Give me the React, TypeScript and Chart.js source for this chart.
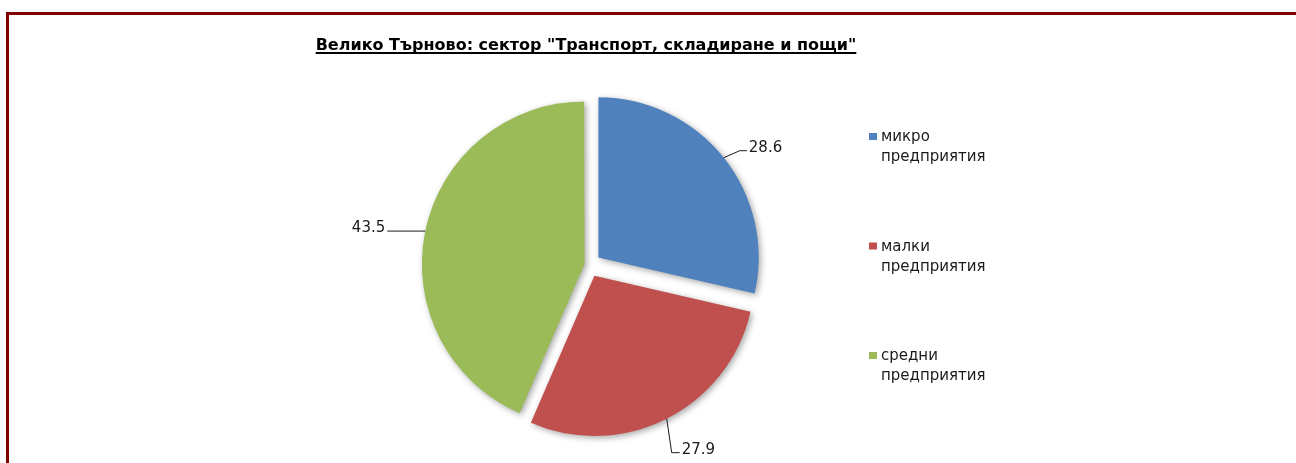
import React, { useEffect, useRef } from "react";
import { Chart, registerables } from "chart.js";

Chart.register(...registerables);

// ---- data ----
const titleText = 'Велико Търново: сектор "Транспорт, складиране и пощи"';
const categories = ["микро предприятия", "малки предприятия", "средни предприятия"];
const legendFirstWords = ["микро", "малки", "средни"];
const legendSecondWords = ["предприятия", "предприятия", "предприятия"];
const values = [28.6, 27.9, 43.5];
const valueLabels = ["28.6", "27.9", "43.5"];
const colors = ["#4F81BD", "#C0504D", "#9BBB59"];
const explodeOffsets = [48, 48, 18];

// leader line shapes (style): elbow dx/dy from arc point, then horizontal run
const leaderStyles = [
  { dx: 16, dy: -7, run: 7 },
  { dx: 5, dy: 34, run: 8 },
  { dx: 0, dy: 0, run: -38 },
];

const W = 1296;
const H = 463;

const framePlugin = {
  id: "frame",
  beforeDraw(chart: any) {
    const ctx = chart.ctx;
    ctx.save();
    ctx.fillStyle = "#ffffff";
    ctx.fillRect(0, 0, W, H);
    ctx.fillStyle = "#800000";
    ctx.fillRect(6, 12, W - 6, 3);
    ctx.fillRect(6, 12, 3, H - 12);
    // title
    ctx.font = "bold 16px 'DejaVu Sans'";
    ctx.fillStyle = "#000000";
    ctx.textAlign = "center";
    ctx.textBaseline = "alphabetic";
    const cx = 586;
    const by = 50;
    ctx.fillText(titleText, cx, by);
    const tw = ctx.measureText(titleText).width;
    ctx.fillRect(cx - tw / 2, by + 2, tw, 2);
    ctx.restore();
  },
};

const shadowPlugin = {
  id: "sliceShadow",
  beforeDatasetsDraw(chart: any) {
    const ctx = chart.ctx;
    ctx.save();
    ctx.shadowColor = "rgba(0,0,0,0.35)";
    ctx.shadowBlur = 6;
    ctx.shadowOffsetX = 2;
    ctx.shadowOffsetY = 2;
  },
  afterDatasetsDraw(chart: any) {
    chart.ctx.restore();
  },
};

const labelPlugin = {
  id: "leaderLabels",
  afterDatasetsDraw(chart: any) {
    const ctx = chart.ctx;
    const meta = chart.getDatasetMeta(0);
    ctx.save();
    ctx.strokeStyle = "#1a1a1a";
    ctx.lineWidth = 1;
    ctx.fillStyle = "#1a1a1a";
    ctx.font = "15px 'DejaVu Sans'";
    ctx.textBaseline = "alphabetic";
    meta.data.forEach((arc: any, i: number) => {
      const p = arc.getProps(["x", "y", "startAngle", "endAngle", "outerRadius"], true);
      const mid = (p.startAngle + p.endAngle) / 2;
      const circ = p.endAngle - p.startAngle;
      const t = explodeOffsets[i] / 4;
      const fix = 1 - Math.sin(Math.min(Math.PI, circ));
      const r = p.outerRadius + t * fix;
      const sx = p.x + Math.cos(mid) * (t + r);
      const sy = p.y + Math.sin(mid) * (t + r);
      const st = leaderStyles[i];
      const ex = sx + st.dx;
      const ey = sy + st.dy;
      const fx = ex + st.run;
      ctx.beginPath();
      ctx.moveTo(sx, sy);
      ctx.lineTo(ex, ey);
      ctx.lineTo(fx, ey);
      ctx.stroke();
      if (st.run >= 0) {
        ctx.textAlign = "left";
        ctx.fillText(valueLabels[i], fx + 2, ey + 1);
      } else {
        ctx.textAlign = "right";
        ctx.fillText(valueLabels[i], fx - 2, ey + 1);
      }
    });
    ctx.restore();
  },
};

const legendPlugin = {
  id: "sideLegend",
  afterDraw(chart: any) {
    const ctx = chart.ctx;
    ctx.save();
    ctx.font = "15px 'DejaVu Sans'";
    ctx.textAlign = "left";
    ctx.textBaseline = "alphabetic";
    categories.forEach((_c, i) => {
      const base = 141 + i * 109.5;
      ctx.fillStyle = colors[i];
      ctx.fillRect(869, base - 8, 8, 7);
      ctx.fillStyle = "#1a1a1a";
      ctx.fillText(legendFirstWords[i], 881, base);
      ctx.fillText(legendSecondWords[i], 881, base + 20);
    });
    ctx.restore();
  },
};

export default function App() {
  const ref = useRef<HTMLCanvasElement | null>(null);
  useEffect(() => {
    if (!ref.current) return;
    Chart.defaults.font.family = "'DejaVu Sans'";
    const chart = new Chart(ref.current, {
      type: "pie",
      data: {
        labels: categories,
        datasets: [
          {
            data: values,
            backgroundColor: colors,
            borderWidth: 0,
            offset: explodeOffsets,
            radius: 160,
          } as any,
        ],
      },
      options: {
        responsive: false,
        animation: false,
        events: [],
        layout: { padding: { left: 419, right: W - 759, top: 95, bottom: H - 435 } },
        plugins: {
          legend: { display: false },
          tooltip: { enabled: false },
          title: { display: false },
        },
      },
      plugins: [framePlugin, shadowPlugin, labelPlugin, legendPlugin],
    });
    return () => chart.destroy();
  }, []);
  return (
    <div style={{ position: "absolute", left: 0, top: 0, width: W, height: H, background: "#fff" }}>
      <canvas ref={ref} width={W} height={H} style={{ display: "block", width: W, height: H }} />
    </div>
  );
}
